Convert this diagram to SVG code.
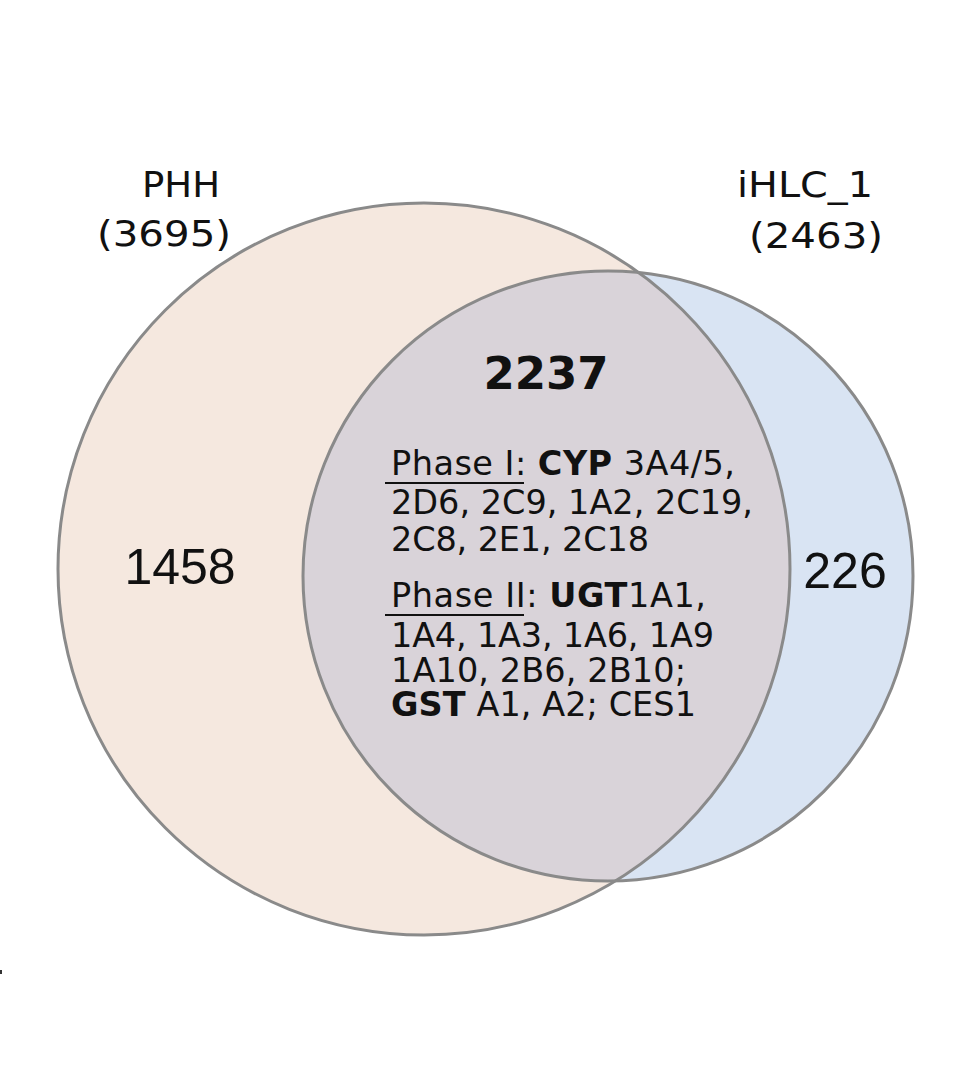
<svg xmlns="http://www.w3.org/2000/svg" width="958" height="1070" viewBox="0 0 958 1070">
<style>
.lbl{font-family:"DejaVu Sans","Verdana",sans-serif;font-size:36px;fill:#111}
.num{font-family:"Liberation Sans","Arial",sans-serif;font-size:50px;fill:#111}
.big{font-family:"DejaVu Sans","Verdana",sans-serif;font-size:45px;font-weight:bold;fill:#111}
.gene{font-family:"DejaVu Sans","Verdana",sans-serif;font-size:33.5px;fill:#111}
.b{font-weight:bold}
.ring{fill:none;stroke:#8a8a8a;stroke-width:3}
.ul{stroke:#111;stroke-width:2.2}
</style>
<defs>
<clipPath id="clipPHH"><circle cx="424" cy="569" r="366"/></clipPath>
</defs>
<rect width="958" height="1070" fill="#ffffff"/>
<g id="set-PHH">
<circle cx="424" cy="569" r="366" fill="#f5e8df"/>
</g>
<g id="set-iHLC">
<circle cx="608" cy="576" r="305" fill="#d9e4f3"/>
</g>
<g id="overlap">
<circle cx="608" cy="576" r="305" fill="#d9d3d9" clip-path="url(#clipPHH)"/>
</g>
<g id="outlines">
<circle class="ring" cx="424" cy="569" r="366"/>
<circle class="ring" cx="608" cy="576" r="305"/>
</g>
<g id="label-PHH">
<text class="lbl" x="142" y="197" textLength="78" lengthAdjust="spacingAndGlyphs">PHH</text>
<text class="lbl" x="97" y="246" textLength="134" lengthAdjust="spacingAndGlyphs">(3695)</text>
</g>
<g id="label-iHLC">
<text class="lbl" x="737" y="197" textLength="136" lengthAdjust="spacingAndGlyphs">iHLC_1</text>
<text class="lbl" x="749" y="248" textLength="134" lengthAdjust="spacingAndGlyphs">(2463)</text>
</g>
<g id="count-PHH-only">
<text class="num" x="180" y="584" text-anchor="middle">1458</text>
</g>
<g id="count-iHLC-only">
<text class="num" x="845" y="588" text-anchor="middle">226</text>
</g>
<g id="count-shared">
<text class="big" x="546" y="389" text-anchor="middle">2237</text>
<text class="gene" x="391" y="475" textLength="344" lengthAdjust="spacing">Phase I: <tspan class="b">CYP</tspan> 3A4/5,</text>
<text class="gene" x="391" y="514" textLength="362" lengthAdjust="spacing">2D6, 2C9, 1A2, 2C19,</text>
<text class="gene" x="391" y="551" textLength="258" lengthAdjust="spacing">2C8, 2E1, 2C18</text>
<text class="gene" x="391" y="607" textLength="315" lengthAdjust="spacing">Phase II: <tspan class="b">UGT</tspan>1A1,</text>
<text class="gene" x="391" y="647" textLength="323" lengthAdjust="spacing">1A4, 1A3, 1A6, 1A9</text>
<text class="gene" x="391" y="682" textLength="295" lengthAdjust="spacing">1A10, 2B6, 2B10;</text>
<text class="gene" x="391" y="716" textLength="305" lengthAdjust="spacing"><tspan class="b">GST</tspan> A1, A2; CES1</text>
<line class="ul" x1="385" y1="483" x2="524" y2="483"/>
<line class="ul" x1="385" y1="615" x2="524" y2="615"/>
</g>
<rect x="0" y="970" width="2" height="4" fill="#333"/>
</svg>
